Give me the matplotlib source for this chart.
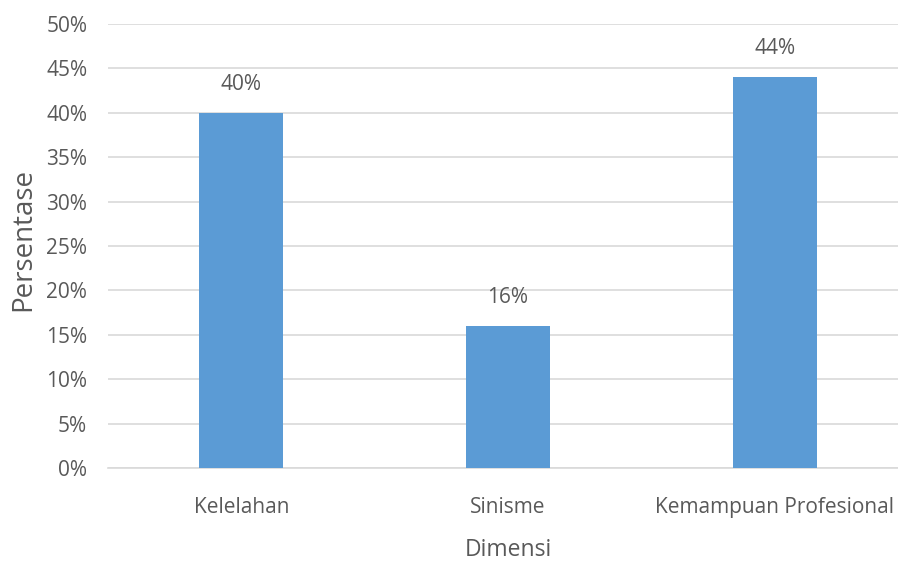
import matplotlib
matplotlib.use("Agg")
import matplotlib.pyplot as plt

categories = ["Kelelahan", "Sinisme", "Kemampuan Profesional"]
values = [40, 16, 44]
yticks = [0, 5, 10, 15, 20, 25, 30, 35, 40, 45, 50]

plt.rcParams['font.family'] = ['Open Sans', 'DejaVu Sans']

txt = "#595959"
fig = plt.figure(figsize=(8.98, 5.65), dpi=100)
ax = fig.add_axes([108/898, 97/565, 800/898, 444/565])
x = list(range(len(categories)))
ax.bar(x, values, width=0.315, color="#5B9BD5", zorder=3)
ax.set_xlim(-0.5, 2.5)
ax.set_ylim(0, 50)
ax.set_yticks(yticks)
ax.set_yticklabels([f"{t}%" for t in yticks], fontsize=15, color=txt)
ax.set_xticks(x)
ax.set_xticklabels(categories, fontsize=15, color=txt)
ax.tick_params(axis='y', length=0, pad=15)
ax.tick_params(axis='x', length=0, pad=21)
ax.grid(axis='y', color="#D9D9D9", linewidth=1.2, zorder=0)
for s in ["top", "right", "left"]:
    ax.spines[s].set_visible(False)
ax.spines["bottom"].set_color("#D9D9D9")
ax.spines["bottom"].set_linewidth(1.2)
for xi, v in zip(x, values):
    ax.annotate(f"{v}%", (xi, v), xytext=(0, 13), textcoords="offset points",
                ha="center", va="bottom", fontsize=15, color=txt)
ax.set_ylabel("Persentase", fontsize=20, color=txt, va="center")
ax.yaxis.set_label_coords(-(108-23)/800, (468-240)/444)
ax.set_xlabel("Dimensi", fontsize=16.5, color=txt, va="center")
ax.xaxis.set_label_coords((508-108)/800, -(550-468)/444)
fig.savefig("out.png", dpi=100)
